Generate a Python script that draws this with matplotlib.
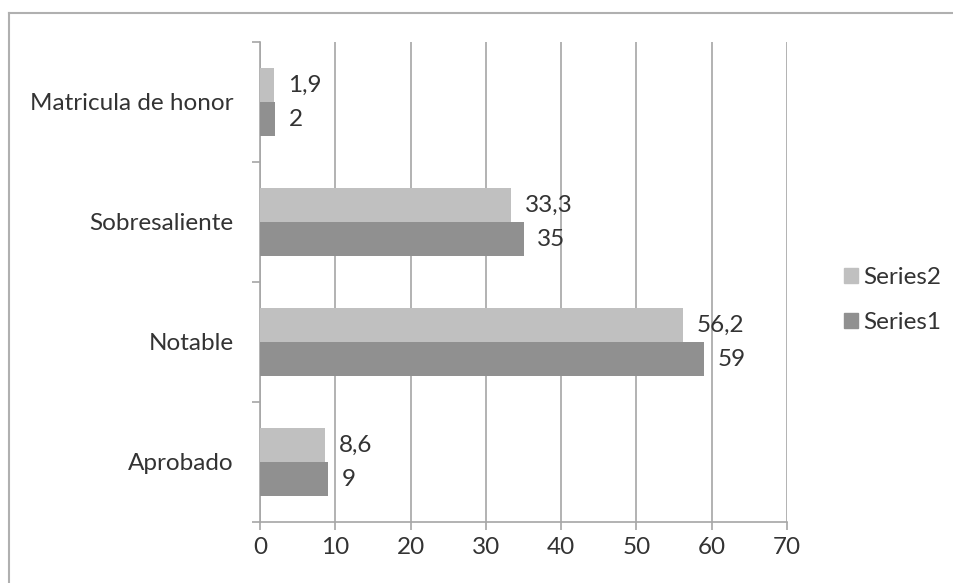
import matplotlib
matplotlib.use("Agg")
import matplotlib.pyplot as plt
from matplotlib.lines import Line2D
from matplotlib.patches import Patch

categories = ["Aprobado", "Notable", "Sobresaliente", "Matricula de honor"]
series1 = [9, 59, 35, 2]
series2 = [8.6, 56.2, 33.3, 1.9]
series1_labels = ["9", "59", "35", "2"]
series2_labels = ["8,6", "56,2", "33,3", "1,9"]
x_ticks = [0, 10, 20, 30, 40, 50, 60, 70]

plt.rcParams["font.family"] = ["Lato", "DejaVu Sans"]
TEXT = "#333333"
GRID = "#a6a6a6"
C1 = "#909090"
C2 = "#c0c0c0"
FS = 17.5

fig = plt.figure(figsize=(9.54, 5.83), dpi=100)
fig.patch.set_facecolor("white")

# chart area border (top and left edges visible)
fig.add_artist(Line2D([9 / 954, 9 / 954], [0, 1 - 13 / 583], transform=fig.transFigure,
                      color="#b0b0b0", lw=1.5))
fig.add_artist(Line2D([9 / 954, 1], [1 - 13 / 583, 1 - 13 / 583], transform=fig.transFigure,
                      color="#b0b0b0", lw=1.5))

ax = fig.add_axes([260 / 954, 1 - 522 / 583, 527 / 954, 480 / 583])

h = 0.2857
ypos = list(range(len(categories)))
y1 = [y - h / 2 for y in ypos]
y2 = [y + h / 2 for y in ypos]
ax.barh(y1, series1, height=h, color=C1, label="Series1", zorder=3)
ax.barh(y2, series2, height=h, color=C2, label="Series2", zorder=3)

for y, v, s in zip(y1, series1, series1_labels):
    ax.annotate(s, (v, y), xytext=(10, 0), textcoords="offset points",
                va="center", ha="left", fontsize=FS, color=TEXT)
for y, v, s in zip(y2, series2, series2_labels):
    ax.annotate(s, (v, y), xytext=(10, 0), textcoords="offset points",
                va="center", ha="left", fontsize=FS, color=TEXT)

ax.set_xlim(0, 70)
ax.set_ylim(-0.5, 3.5)
ax.set_xticks(x_ticks)
ax.set_xticklabels([str(t) for t in x_ticks], fontsize=FS, color=TEXT)
ax.xaxis.grid(True, color=GRID, lw=1.2, zorder=0)

# category ticks sit on the group boundaries, labels at the centres
ax.set_yticks([-0.5, 0.5, 1.5, 2.5, 3.5])
ax.set_yticklabels([])
ax.set_yticks(ypos, minor=True)
ax.set_yticklabels(categories, minor=True, fontsize=FS, color=TEXT)
ax.tick_params(axis="y", which="minor", length=0, pad=19)
ax.tick_params(axis="y", which="major", length=6, color=GRID, width=1.2)
ax.tick_params(axis="x", length=6, color=GRID, width=1.2, pad=5)

for side in ["top", "right"]:
    ax.spines[side].set_visible(False)
for side in ["left", "bottom"]:
    ax.spines[side].set_color(GRID)
    ax.spines[side].set_linewidth(1.2)

handles = [Patch(color=C2, label="Series2"), Patch(color=C1, label="Series1")]
fig.legend(handles=handles, loc="center left", bbox_to_anchor=(822 / 954, 1 - 300 / 583),
           frameon=False, fontsize=FS, handlelength=0.6, handleheight=0.6,
           handletextpad=0.2, labelspacing=1.0, labelcolor=TEXT)

fig.savefig("out.png", dpi=100, facecolor="white")
